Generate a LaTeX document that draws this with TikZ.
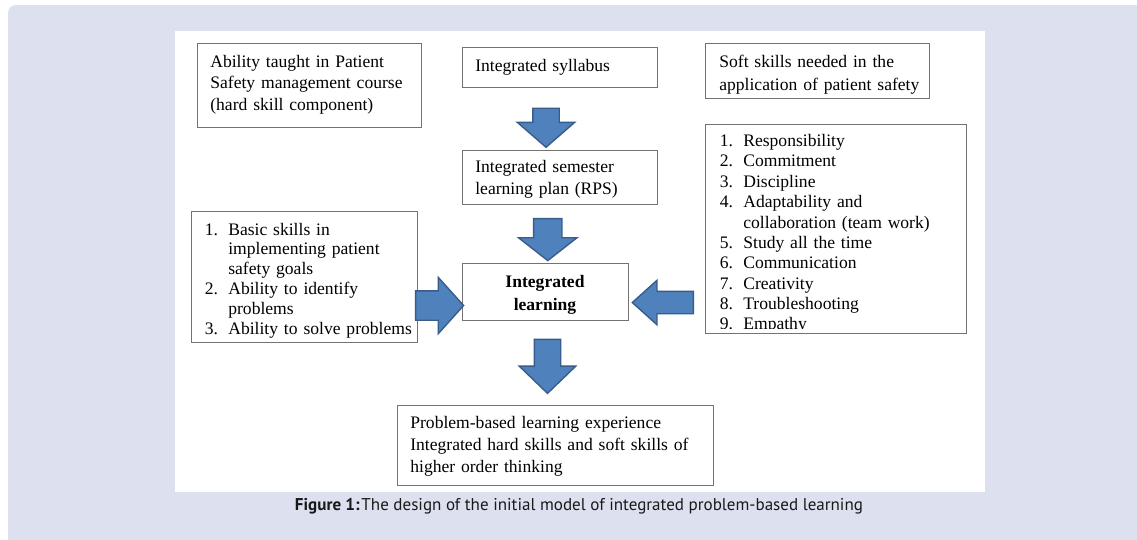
\documentclass[tikz,border=0pt]{standalone}
\usepackage{fontspec}
\setmainfont{Liberation Serif}
\newfontfamily\capfont{PT Sans}
\usepackage{tikz}
\usetikzlibrary{arrows.meta,positioning,calc,shapes.arrows}
\definecolor{panelbg}{RGB}{221,224,238}
\definecolor{arrowblue}{RGB}{79,129,189}
\definecolor{arrowedge}{RGB}{56,93,138}
% list number hanging left of the item text
\newcommand{\itemno}[1]{\leavevmode\llap{\makebox[0.47cm][l]{#1.}}}

\begin{document}
\begin{tikzpicture}[
    x=0.02cm, y=-0.02cm,
    frame/.style={draw=black!55, line width=0.6pt, fill=white, anchor=north west, inner sep=0pt},
    txt/.style={anchor=base west, inner sep=0pt, text width=6cm, align=left},
    blockarr/.style={single arrow, draw=arrowedge, line width=0.8pt, fill=arrowblue,
        inner xsep=0pt, single arrow head indent=0pt},
    every node/.style={font=\fontsize{10}{12}\selectfont}
]
\useasboundingbox (0,0) rectangle (1137,539);
\clip (0,0) rectangle (1137,539);
\fill[white] (0,0) rectangle (1137,539);
\fill[panelbg, rounded corners=0.16cm] (8,5) rectangle (1160,560);
\fill[white] (175,31) rectangle (985,492);

% boxes
\node[frame, minimum width=4.48cm, minimum height=1.68cm] (hard) at (197,43) {};
\node[frame, minimum width=3.90cm, minimum height=0.80cm] (syl) at (462,47) {};
\node[frame, minimum width=4.48cm, minimum height=1.10cm] (need) at (705,43) {};
\node[frame, minimum width=3.90cm, minimum height=1.08cm] (plan) at (462,150) {};
\node[frame, minimum width=3.32cm, minimum height=1.14cm] (intl) at (462,263) {};
\node[frame, minimum width=4.52cm, minimum height=2.62cm] (basic) at (191,211) {};
\node[frame, minimum width=5.22cm, minimum height=4.18cm] (soft) at (705,124) {};
\node[frame, minimum width=6.32cm, minimum height=1.60cm] (pbl) at (397,405) {};

% box texts, cut off a little above the bottom borders
\begin{scope}
\clip (hard.north west) rectangle ($(hard.south east)+(0,-6)$)
      (syl.north west) rectangle ($(syl.south east)+(0,-6)$)
      (need.north west) rectangle ($(need.south east)+(0,-6)$)
      (plan.north west) rectangle ($(plan.south east)+(0,-6)$)
      (intl.north west) rectangle ($(intl.south east)+(0,-6)$)
      (basic.north west) rectangle ($(basic.south east)+(0,-6)$)
      (soft.north west) rectangle ($(soft.south east)+(0,-6)$)
      (pbl.north west) rectangle ($(pbl.south east)+(0,-6)$);
\node[txt, font=\fontsize{10}{12.5}\selectfont] (hardtxt) at ($(hard.north west)+(13,24)$)
    {Ability taught in Patient\\ Safety management course\\ (hard skill component)};
\node[txt] (syltxt) at ($(syl.north west)+(13,24)$) {Integrated syllabus};
\node[txt, font=\fontsize{10}{13.1}\selectfont] (needtxt) at ($(need.north west)+(14,24)$)
    {Soft skills needed in the\\ application of patient safety};
\node[txt, font=\fontsize{10}{12.8}\selectfont] (plantxt) at ($(plan.north west)+(13,22.5)$)
    {Integrated semester\\ learning plan (RPS)};
\node[anchor=base, inner sep=0pt, text width=3cm, align=center,
      font=\fontsize{10}{13.1}\selectfont\bfseries] (intltxt) at (545,287)
    {Integrated\\ learning};
\node[txt, font=\fontsize{10}{11.3}\selectfont] (basictxt) at ($(basic.north west)+(37,24)$)
    {\itemno{1}Basic skills in\\ implementing patient\\ safety goals\\
     \itemno{2}Ability to identify\\ problems\\ \itemno{3}Ability to solve problems};
\node[txt, font=\fontsize{10}{11.6}\selectfont] (softtxt) at ($(soft.north west)+(38,22.5)$)
    {\itemno{1}Responsibility\\ \itemno{2}Commitment\\ \itemno{3}Discipline\\
     \itemno{4}Adaptability and\\ collaboration (team work)\\ \itemno{5}Study all the time\\
     \itemno{6}Communication\\ \itemno{7}Creativity\\ \itemno{8}Troubleshooting\\
     \itemno{9}Empathy};
\node[txt, font=\fontsize{10}{12.8}\selectfont] (pbltxt) at ($(pbl.north west)+(13,23)$)
    {Problem-based learning experience\\ Integrated hard skills and soft skills of\\ higher order thinking};
\end{scope}

% block arrows: inner ysep is half the shaft, head extend the rest of the head
\node[blockarr, rotate=-90, minimum height=0.78cm, inner ysep=0.25cm,
      single arrow head extend=0.31cm, single arrow tip angle=98] (arr1)
      at ($(syl.south)!0.5!(plan.north)+(-14,3)$) {};
\node[blockarr, rotate=-90, minimum height=0.84cm, inner ysep=0.27cm,
      single arrow head extend=0.30cm, single arrow tip angle=104] (arr2)
      at ($(plan.south)!0.5!(intl.north)+(-5,0)$) {};
\node[blockarr, rotate=-90, minimum height=1.08cm, inner ysep=0.25cm,
      single arrow head extend=0.30cm, single arrow tip angle=92] (arr3)
      at ($(intl.south)!0.5!(pbl.north)+(-3,-3)$) {};
\node[blockarr, minimum height=0.96cm, inner ysep=0.28cm,
      single arrow head extend=0.27cm, single arrow tip angle=96] (arrL)
      at ($(basic.east)!0.5!(intl.west)+(-7,21)$) {};
\node[blockarr, rotate=180, minimum height=1.22cm, inner ysep=0.21cm,
      single arrow head extend=0.22cm, single arrow tip angle=84] (arrR)
      at ($(intl.east)+(40,10.5)$) {};

% caption
\node[anchor=base, inner sep=0pt, text=black!90, font=\capfont\fontsize{9.7}{11}\selectfont] (cap) at (579,510)
    {\textbf{Figure 1:}\kern1pt The design of the initial model of integrated problem-based learning};
\end{tikzpicture}
\end{document}
